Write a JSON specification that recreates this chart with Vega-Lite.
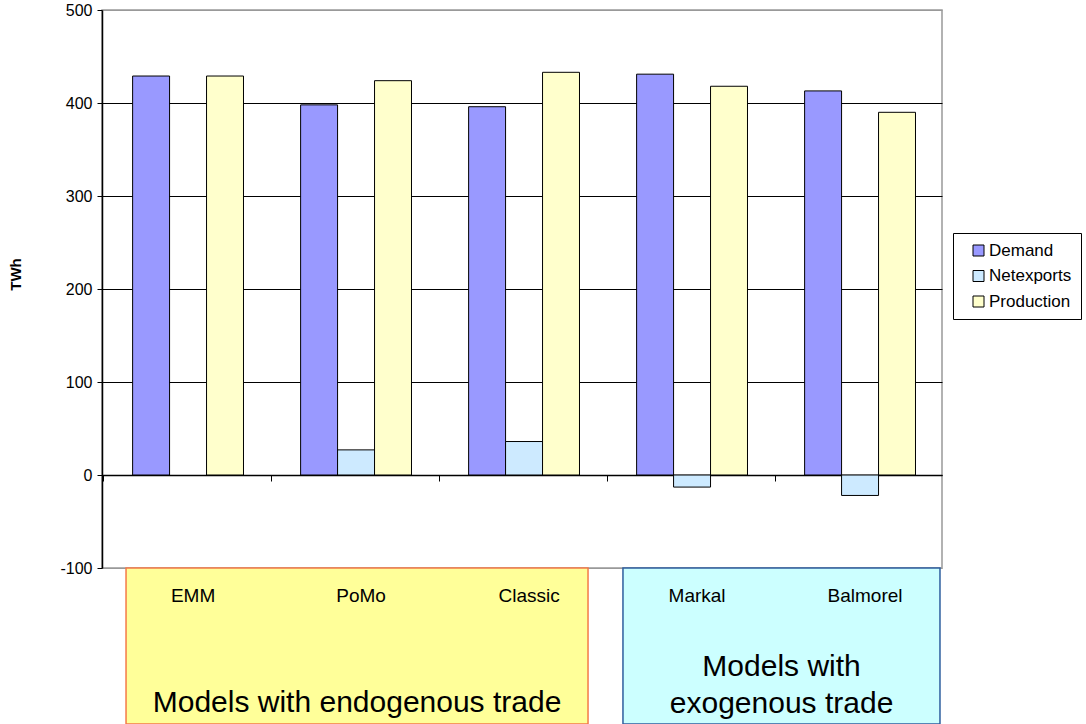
{
  "$schema": "https://vega.github.io/schema/vega-lite/v6.json",
  "background": "white",
  "padding": {"left": 8, "top": 1, "right": 2, "bottom": 0},
  "bounds": "flush",
  "spacing": -2,
  "config": {
    "font": "Liberation Sans",
    "view": {"stroke": "#999999", "strokeWidth": 1.5},
    "axis": {"labelColor": "black", "titleColor": "black", "labelFont": "Liberation Sans", "titleFont": "Liberation Sans"},
    "legend": {"labelFont": "Liberation Sans"}
  },
  "datasets": {
    "energy": [
      {"model": "EMM", "series": "Demand", "twh": 429},
      {"model": "EMM", "series": "Production", "twh": 429},
      {"model": "PoMo", "series": "Demand", "twh": 398},
      {"model": "PoMo", "series": "Netexports", "twh": 27},
      {"model": "PoMo", "series": "Production", "twh": 424},
      {"model": "Classic", "series": "Demand", "twh": 396},
      {"model": "Classic", "series": "Netexports", "twh": 36},
      {"model": "Classic", "series": "Production", "twh": 433},
      {"model": "Markal", "series": "Demand", "twh": 431},
      {"model": "Markal", "series": "Netexports", "twh": -13},
      {"model": "Markal", "series": "Production", "twh": 418},
      {"model": "Balmorel", "series": "Demand", "twh": 413},
      {"model": "Balmorel", "series": "Netexports", "twh": -22},
      {"model": "Balmorel", "series": "Production", "twh": 390}
    ],
    "models": [
      {"model": "EMM"},
      {"model": "PoMo"},
      {"model": "Classic"},
      {"model": "Markal"},
      {"model": "Balmorel"}
    ],
    "groups": [
      {"kind": "endogenous", "caption": "Models with endogenous trade", "start": 0.143, "end": 2.893, "mid": 1.518},
      {"kind": "exogenous", "caption": "Models with\nexogenous trade", "start": 3.101, "end": 4.988, "mid": 4.045}
    ]
  },
  "vconcat": [
    {
      "width": 840,
      "height": 558,
      "data": {"name": "energy"},
      "mark": {"type": "bar", "stroke": "black", "strokeWidth": 1},
      "encoding": {
        "x": {
          "field": "model",
          "type": "nominal",
          "sort": ["EMM", "PoMo", "Classic", "Markal", "Balmorel"],
          "scale": {"paddingInner": 0.34, "paddingOuter": 0.17, "align": 0.536},
          "axis": {
            "title": null,
            "labels": false,
            "offset": -93,
            "bandPosition": -0.26,
            "tickSize": 6,
            "tickColor": "black",
            "domainColor": "black",
            "domainWidth": 1.5,
            "grid": false
          }
        },
        "xOffset": {
          "field": "series",
          "type": "nominal",
          "sort": ["Demand", "Netexports", "Production"],
          "scale": {"paddingInner": 0, "paddingOuter": 0}
        },
        "y": {
          "field": "twh",
          "type": "quantitative",
          "scale": {"domain": [-100, 500], "nice": false, "zero": false},
          "axis": {
            "title": "TWh",
            "titleFontSize": 15,
            "titleFontWeight": "bold",
            "titlePadding": 36,
            "titleY": 264,
            "values": [-100, 0, 100, 200, 300, 400, 500],
            "labelExpr": "'' + datum.value",
            "labelFontSize": 16,
            "labelPadding": 5,
            "tickSize": 5,
            "tickColor": "black",
            "domainColor": "black",
            "domainWidth": 1.5,
            "grid": true,
            "gridColor": {
              "condition": {"test": "datum.value === -100 || datum.value === 500", "value": "#999999"},
              "value": "black"
            },
            "gridOpacity": 1,
            "gridWidth": 1
          }
        },
        "color": {
          "field": "series",
          "type": "nominal",
          "scale": {
            "domain": ["Demand", "Netexports", "Production"],
            "range": ["#9999ff", "#cdeaff", "#ffffcc"]
          },
          "legend": {
            "title": null,
            "orient": "none",
            "legendX": 851,
            "legendY": 223,
            "strokeColor": "black",
            "fillColor": "white",
            "padding": 9,
            "symbolOffset": 8,
            "symbolType": "square",
            "symbolSize": 121,
            "symbolStrokeColor": "black",
            "symbolStrokeWidth": 1,
            "symbolOpacity": 1,
            "labelFontSize": 17,
            "labelOffset": 2,
            "rowPadding": 7.5,
            "labelColor": "black"
          }
        }
      }
    },
    {
      "width": 840,
      "height": 156,
      "view": {"stroke": null},
      "layer": [
        {
          "data": {"name": "groups"},
          "mark": {"type": "rect", "strokeWidth": 1.5},
          "encoding": {
            "x": {"field": "start", "type": "quantitative", "scale": {"domain": [0, 5], "nice": false, "zero": false}, "axis": null},
            "x2": {"field": "end"},
            "y": {"datum": 0, "type": "quantitative", "scale": {"domain": [0, 1], "nice": false, "reverse": true}, "axis": null},
            "y2": {"datum": 1},
            "fill": {
              "field": "kind",
              "type": "nominal",
              "scale": {"domain": ["endogenous", "exogenous"], "range": ["#ffff99", "#ccffff"]},
              "legend": null
            },
            "stroke": {
              "field": "kind",
              "type": "nominal",
              "scale": {"domain": ["endogenous", "exogenous"], "range": ["#f47a48", "#2e5e9e"]},
              "legend": null
            }
          }
        },
        {
          "data": {"name": "groups"},
          "transform": [{"filter": "datum.kind === 'endogenous'"}],
          "mark": {"type": "text", "fontSize": 30, "color": "black", "baseline": "middle", "align": "center"},
          "encoding": {
            "x": {"field": "mid", "type": "quantitative", "scale": {"domain": [0, 5], "nice": false, "zero": false}, "axis": null},
            "y": {"datum": 0.865, "type": "quantitative", "scale": {"domain": [0, 1], "nice": false, "reverse": true}, "axis": null},
            "text": {"field": "caption"}
          }
        },
        {
          "data": {"name": "groups"},
          "transform": [{"filter": "datum.kind === 'exogenous'"}],
          "mark": {"type": "text", "fontSize": 30, "color": "black", "baseline": "middle", "align": "center", "lineBreak": "\n", "lineHeight": 37},
          "encoding": {
            "x": {"field": "mid", "type": "quantitative", "scale": {"domain": [0, 5], "nice": false, "zero": false}, "axis": null},
            "y": {"datum": 0.635, "type": "quantitative", "scale": {"domain": [0, 1], "nice": false, "reverse": true}, "axis": null},
            "text": {"field": "caption"}
          }
        },
        {
          "data": {"name": "models"},
          "mark": {"type": "text", "fontSize": 19, "color": "black", "baseline": "middle", "align": "center", "dx": 1},
          "encoding": {
            "x": {
              "field": "model",
              "type": "nominal",
              "sort": ["EMM", "PoMo", "Classic", "Markal", "Balmorel"],
              "scale": {"paddingInner": 0.34, "paddingOuter": 0.17, "align": 0.536},
              "axis": null
            },
            "y": {"datum": 0.18, "type": "quantitative", "scale": {"domain": [0, 1], "nice": false, "reverse": true}, "axis": null},
            "text": {"field": "model"}
          }
        }
      ],
      "resolve": {"scale": {"x": "independent"}}
    }
  ],
  "resolve": {"scale": {"x": "independent", "y": "independent", "color": "independent", "fill": "independent", "stroke": "independent"}}
}
